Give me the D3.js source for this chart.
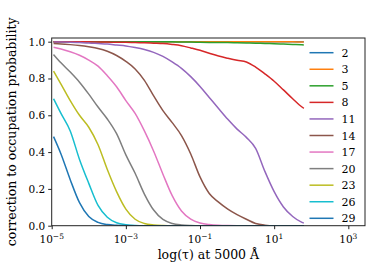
<!DOCTYPE html>
<html>
<head>
<meta charset="utf-8">
<script src="https://cdn.jsdelivr.net/npm/d3@7"></script>
<style>
  body { margin: 0; background: #fff; }
  text { font-family: "DejaVu Serif", serif; fill: #000; }
</style>
</head>
<body>
<script>
// log10(tau) sample points shared by every series
var logTau = [-4.95, -4.75, -4.5, -4.25, -4, -3.75, -3.5, -3.25, -3, -2.75, -2.5, -2.25, -2, -1.75,
  -1.5, -1.25, -1, -0.75, -0.5, -0.25, 0, 0.25, 0.5, 0.75, 1, 1.25, 1.5, 1.75, 1.8];

var levels = ['2', '3', '5', '8', '11', '14', '17', '20', '23', '26', '29'];
var colors = ['#1f77b4', '#ff7f0e', '#2ca02c', '#d62728', '#9467bd', '#8c564b',
  '#e377c2', '#7f7f7f', '#bcbd22', '#17becf', '#1f77b4'];

var s2 = [1, 1, 1, 1, 1, 1, 1, 1, 1, 1, 1, 1, 1, 1, 1, 1, 1, 1, 1, 1, 1, 1, 1, 1, 1, 1, 1, 1, 1];
var s3 = [1, 1, 1, 1, 1, 1, 1, 1, 1, 1, 1, 1, 1, 1, 1, 1, 1, 1, 1, 1, 1, 1, 0.9995, 0.9995, 0.999, 0.999, 0.999, 0.998, 0.998];
var s5 = [1, 1, 1, 1, 1, 1, 1, 1, 1, 1, 1, 1, 0.999, 0.999, 0.998, 0.998, 0.997, 0.996, 0.995, 0.995,
  0.994, 0.993, 0.992, 0.99, 0.989, 0.987, 0.985, 0.983, 0.982];
var s8 = [1, 1, 1, 0.999, 0.999, 0.998, 0.998, 0.997, 0.997, 0.995, 0.994, 0.992, 0.99, 0.985,
  0.978, 0.966, 0.953, 0.937, 0.922, 0.91, 0.899, 0.89, 0.862, 0.825, 0.785, 0.738, 0.69, 0.645, 0.638];
var s11 = [0.998, 0.998, 0.997, 0.995, 0.993, 0.99, 0.987, 0.982, 0.977, 0.968, 0.957, 0.942, 0.92, 0.89,
  0.855, 0.81, 0.757, 0.697, 0.637, 0.578, 0.525, 0.48, 0.42, 0.295, 0.185, 0.102, 0.05, 0.018, 0.014];
var s14 = [0.99, 0.988, 0.984, 0.979, 0.972, 0.963, 0.948, 0.925, 0.893, 0.852, 0.79, 0.705, 0.625, 0.56,
  0.49, 0.39, 0.265, 0.175, 0.128, 0.09, 0.06, 0.035, 0.012, 0.003, 0, 0, 0, 0, 0];
var s17 = [0.97, 0.96, 0.945, 0.926, 0.9, 0.867, 0.815, 0.755, 0.68, 0.61, 0.515, 0.405, 0.28, 0.163,
  0.08, 0.036, 0.015, 0.006, 0.002, 0.0005, 0, 0, 0, 0, 0, 0, 0, 0, 0];
var s20 = [0.93, 0.885, 0.835, 0.78, 0.715, 0.645, 0.58, 0.5, 0.385, 0.285, 0.172, 0.085, 0.034, 0.012,
  0.004, 0.001, 0, 0, 0, 0, 0, 0, 0, 0, 0, 0, 0, 0, 0];
var s23 = [0.84, 0.77, 0.68, 0.6, 0.535, 0.44, 0.305, 0.185, 0.09, 0.035, 0.012, 0.004, 0.001, 0,
  0, 0, 0, 0, 0, 0, 0, 0, 0, 0, 0, 0, 0, 0, 0];
var s26 = [0.69, 0.61, 0.515, 0.36, 0.23, 0.11, 0.046, 0.016, 0.005, 0.001, 0, 0, 0, 0,
  0, 0, 0, 0, 0, 0, 0, 0, 0, 0, 0, 0, 0, 0, 0];
var s29 = [0.484, 0.39, 0.25, 0.125, 0.05, 0.018, 0.006, 0.002, 0.0005, 0, 0, 0, 0, 0,
  0, 0, 0, 0, 0, 0, 0, 0, 0, 0, 0, 0, 0, 0, 0];

var series = [s2, s3, s5, s8, s11, s14, s17, s20, s23, s26, s29];

var xTicks = [1e-5, 1e-3, 1e-1, 1e1, 1e3];
var xTickExp = ['\u22125', '\u22123', '\u22121', '1', '3'];
var yTicks = [0, 0.2, 0.4, 0.6, 0.8, 1.0];

var W = 374, H = 273;
var m = { left: 51.7, right: 365, top: 38, bottom: 225.7 };

var svg = d3.select('body').append('svg')
  .attr('width', W)
  .attr('height', H);

var x = d3.scaleLog()
  .domain([1e-5, Math.pow(10, 3.45)])
  .range([m.left, m.right]);

var y = d3.scaleLinear()
  .domain([0, 1.02])
  .range([m.bottom, m.top]);

svg.append('clipPath').attr('id', 'plotclip')
  .append('rect')
  .attr('x', m.left).attr('y', m.top)
  .attr('width', m.right - m.left).attr('height', m.bottom - m.top);

var line = d3.line()
  .x(function(d) { return x(Math.pow(10, d[0])); })
  .y(function(d) { return y(d[1]); })
  .curve(d3.curveMonotoneX);

svg.append('g').attr('clip-path', 'url(#plotclip)')
  .selectAll('path')
  .data(series)
  .enter().append('path')
  .attr('d', function(s) { return line(s.map(function(v, i) { return [logTau[i], v]; })); })
  .attr('fill', 'none')
  .attr('stroke', function(s, i) { return colors[i]; })
  .attr('stroke-width', 1.5);

// axes
var xAxis = svg.append('g')
  .attr('transform', 'translate(0,' + m.bottom + ')')
  .call(d3.axisBottom(x).tickValues(xTicks).tickSize(3.5).tickFormat(''));
xAxis.select('.domain').remove();
xAxis.selectAll('line').attr('stroke', '#222');

var xLab = svg.append('g').selectAll('text')
  .data(xTicks)
  .enter().append('text')
  .attr('x', function(d) { return x(d); })
  .attr('y', 243)
  .attr('text-anchor', 'middle')
  .attr('font-size', 10.5);
xLab.append('tspan').text('10');
xLab.append('tspan')
  .attr('dy', -4.5)
  .attr('font-size', 7.5)
  .text(function(d, i) { return xTickExp[i]; });

var yAxis = svg.append('g')
  .attr('transform', 'translate(' + m.left + ',0)')
  .call(d3.axisLeft(y).tickValues(yTicks).tickSize(3.5).tickPadding(3).tickFormat(d3.format('.1f')));
yAxis.select('.domain').remove();
yAxis.selectAll('line').attr('stroke', '#222');
yAxis.selectAll('text')
  .attr('font-family', '"DejaVu Serif", serif')
  .attr('font-size', 10.5)
  .attr('fill', '#000');

svg.append('rect')
  .attr('x', m.left).attr('y', m.top)
  .attr('width', m.right - m.left).attr('height', m.bottom - m.top)
  .attr('fill', 'none')
  .attr('stroke', '#222')
  .attr('stroke-width', 1);

svg.append('text')
  .attr('x', (m.left + m.right) / 2)
  .attr('y', 259)
  .attr('text-anchor', 'middle')
  .attr('font-size', 12.5)
  .text('log(\u03c4) at 5000 \u00c5');

svg.append('text')
  .attr('transform', 'translate(16,' + ((m.top + m.bottom) / 2) + ') rotate(-90)')
  .attr('text-anchor', 'middle')
  .attr('font-size', 12.5)
  .text('correction to occupation probability');

// legend
var leg = svg.append('g').selectAll('g')
  .data(levels)
  .enter().append('g')
  .attr('transform', function(d, i) { return 'translate(309.5,' + (52.7 + i * 16.56) + ')'; });
leg.append('line')
  .attr('x1', 0).attr('x2', 24)
  .attr('stroke', function(d, i) { return colors[i]; })
  .attr('stroke-width', 1.5);
leg.append('text')
  .attr('x', 32)
  .attr('y', 4)
  .attr('font-size', 11)
  .text(function(d) { return d; });
</script>
</body>
</html>
